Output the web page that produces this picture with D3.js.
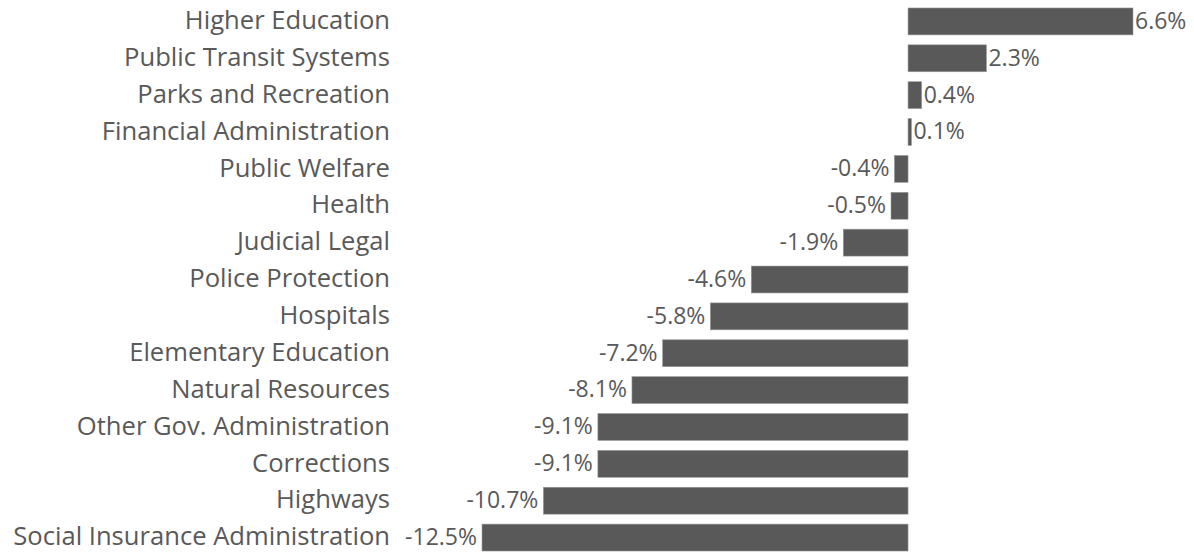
<!DOCTYPE html>
<html>
<head>
<meta charset="utf-8">
<script src="https://cdn.jsdelivr.net/npm/d3@7"></script>
<style>
  body { margin: 0; background: #fff; }
  text { font-family: "Open Sans", sans-serif; fill: #595959; }
</style>
</head>
<body>
<svg id="grafica" width="1194" height="552"></svg>
<script>
var categories = [
  "Higher Education", "Public Transit Systems", "Parks and Recreation",
  "Financial Administration", "Public Welfare", "Health", "Judicial Legal",
  "Police Protection", "Hospitals", "Elementary Education", "Natural Resources",
  "Other Gov. Administration", "Corrections", "Highways",
  "Social Insurance Administration"
];
var values = [6.6, 2.3, 0.4, 0.1, -0.4, -0.5, -1.9, -4.6, -5.8, -7.2, -8.1, -9.1, -9.1, -10.7, -12.5];

var data = categories.map((c, i) => ({name: c, value: values[i]}));

var svg = d3.select("#grafica");

var x = d3.scaleLinear()
  .domain([-12.5, 6.6])
  .range([482, 1133]);

var y = d3.scaleBand()
  .domain(categories)
  .range([3, 556])
  .paddingInner(0.27)
  .paddingOuter(0.135);

svg.selectAll(".bar")
  .data(data)
  .enter().append("rect")
  .attr("class", "bar")
  .attr("fill", "#595959")
  .attr("stroke", "#9a9a9a")
  .attr("stroke-width", 0.6)
  .attr("x", d => x(Math.min(0, d.value)))
  .attr("y", d => y(d.name))
  .attr("height", y.bandwidth())
  .attr("width", d => Math.max(1, Math.abs(x(d.value) - x(0))));

svg.selectAll(".name")
  .data(data)
  .enter().append("text")
  .attr("class", "name")
  .attr("x", 390)
  .attr("y", d => y(d.name) + y.bandwidth() / 2)
  .attr("dy", "0.3em")
  .attr("text-anchor", "end")
  .style("font-size", "25.6px")
  .text(d => d.name);

svg.selectAll(".value")
  .data(data)
  .enter().append("text")
  .attr("class", "value")
  .attr("x", d => d.value >= 0 ? x(d.value) + 2 : x(d.value) - 5)
  .attr("y", d => y(d.name) + y.bandwidth() / 2)
  .attr("dy", "0.32em")
  .attr("text-anchor", d => d.value >= 0 ? "start" : "end")
  .style("font-size", "23px")
  .text(d => d.value.toFixed(1) + "%");
</script>
</body>
</html>
